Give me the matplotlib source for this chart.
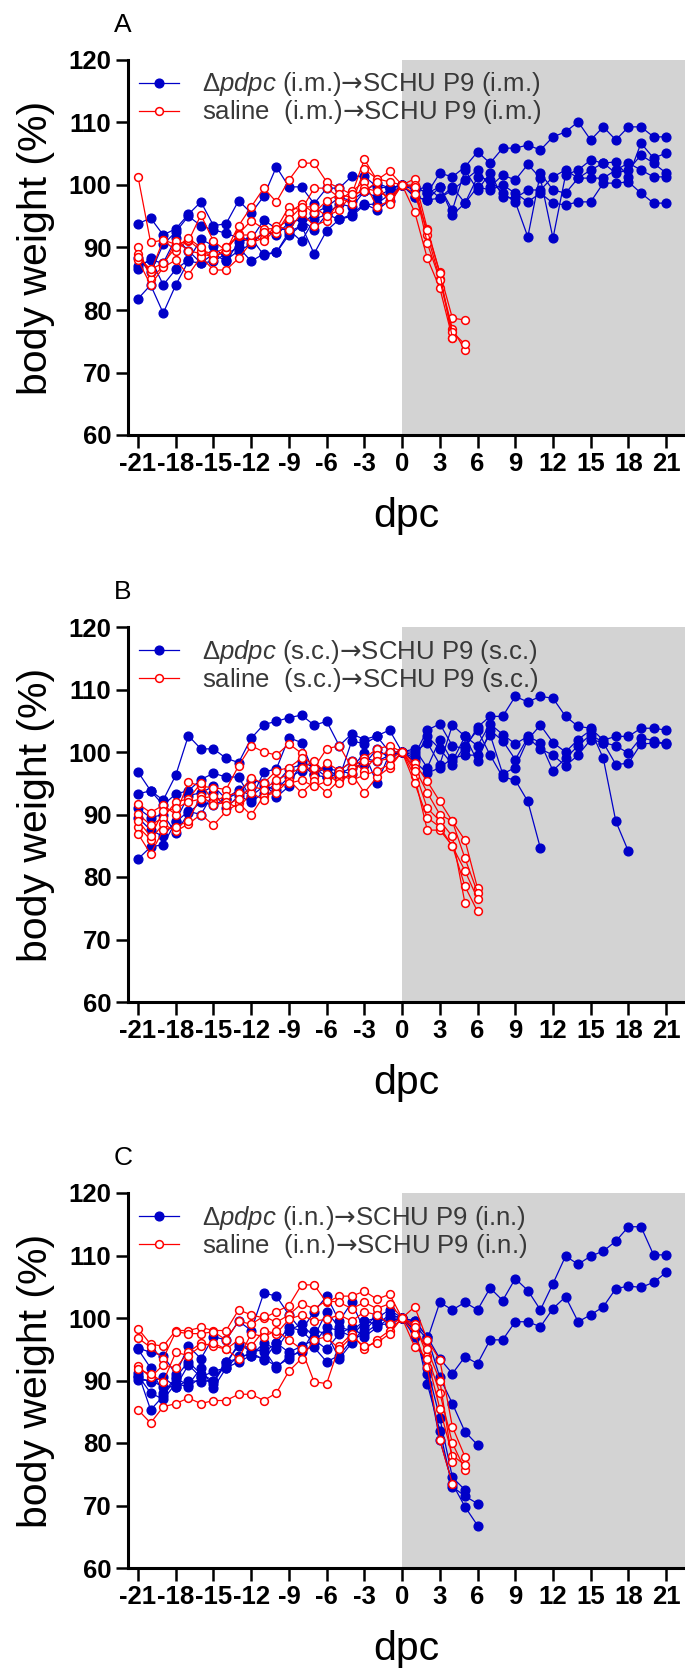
import matplotlib

matplotlib.use("Agg")
import matplotlib.pyplot as plt

plt.rcParams["font.family"] = ["Liberation Sans", "DejaVu Sans"]
plt.rcParams["axes.unicode_minus"] = False
plt.rcParams["mathtext.fontset"] = "custom"
plt.rcParams["mathtext.rm"] = "Liberation Sans"
plt.rcParams["mathtext.it"] = "Liberation Sans:italic"
plt.rcParams["mathtext.sf"] = "DejaVu Sans"

# days post challenge (dpc); each mouse series starts at -21 and runs daily
DAYS = list(range(-21, 22))
X_TICKS = list(range(-21, 22, 3))
Y_TICKS = [60, 70, 80, 90, 100, 110, 120]

# ---- Panel A: i.m. ------------------------------------------------------- #
A_PDPC = [
    [93.8, 94.7, 92.0, 93.0, 95.3, 97.3, 93.5, 93.8, 97.5, 95.5, 98.2, 102.9, 99.7, 99.7, 97.0, 99.5, 99.5, 101.4, 101.4, 99.7, 99.5,
     100, 99.7, 98.7, 101.9, 101.3, 102.9, 105.3, 103.5, 105.9, 105.9, 106.4, 105.6, 107.7, 108.5, 110.1, 107.2, 109.3, 107.2, 109.3, 109.3, 107.7, 107.7],
    [81.8, 84.0, 79.5, 84.0, 87.8, 87.5, 87.8, 89.0, 90.0, 87.8, 89.0, 89.2, 92.5, 93.5, 89.0, 92.7, 94.5, 95.0, 96.8, 97.0, 98.5,
     100, 98.1, 97.6, 97.9, 99.7, 97.1, 99.7, 99.2, 100.0, 98.7, 97.3, 98.7, 97.1, 96.8, 97.3, 97.3, 100.3, 100.3, 100.5, 98.7, 97.1, 97.1],
    [86.5, 88.3, 84.0, 86.5, 88.0, 91.3, 90.3, 88.0, 89.5, 90.5, 92.5, 92.0, 94.0, 94.5, 92.8, 95.3, 94.5, 95.3, 97.0, 96.0, 97.5,
     100, 98.1, 97.6, 99.7, 95.2, 97.1, 101.3, 100.8, 98.7, 97.3, 91.7, 101.9, 99.2, 98.7, 101.1, 102.4, 103.5, 101.9, 102.4, 104.8, 103.5, 101.9],
    [88.3, 86.0, 90.5, 92.5, 95.0, 93.5, 92.8, 92.3, 91.5, 91.3, 94.4, 93.0, 92.8, 91.0, 94.5, 95.3, 97.0, 96.5, 99.0, 100.3, 99.5,
     100, 99.2, 99.7, 97.9, 99.2, 100.8, 102.4, 99.7, 101.6, 100.8, 103.3, 101.1, 91.5, 101.6, 102.4, 104.0, 103.5, 103.7, 101.3, 106.7, 104.3, 105.1],
    [87.0, 88.0, 87.5, 91.5, 89.5, 87.5, 89.0, 87.8, 90.8, 91.5, 88.8, 89.2, 92.0, 93.5, 95.5, 96.5, 98.0, 97.5, 99.0, 98.0, 99.3,
     100, 99.7, 98.7, 99.7, 96.0, 102.4, 99.2, 101.9, 98.1, 97.9, 99.2, 99.2, 101.3, 102.4, 101.1, 101.1, 101.1, 102.4, 103.5, 102.4, 101.3, 101.3],
]
A_SALINE = [
    [101.3, 90.8, 91.2, 90.5, 91.0, 95.2, 91.0, 89.5, 93.5, 96.5, 99.5, 97.3, 100.8, 103.5, 103.5, 100.5, 99.5, 98.5, 104.1, 100.8, 102.2,
     100, 101.0, 93.0, 86.0, 78.7, 78.4],
    [90.0, 85.0, 87.0, 91.0, 89.5, 89.0, 88.5, 89.5, 92.2, 94.3, 93.0, 93.0, 96.5, 96.0, 99.5, 99.5, 98.0, 97.0, 102.5, 101.0, 100.5,
     100, 100.0, 92.0, 85.0, 77.0, 73.6],
    [88.0, 84.0, 86.8, 88.0, 85.6, 88.5, 86.4, 86.4, 88.3, 90.8, 91.5, 93.5, 92.8, 95.5, 93.5, 94.3, 97.5, 99.0, 100.5, 96.5, 97.5,
     100, 95.7, 88.3, 83.5, 75.5],
    [89.0, 86.0, 91.2, 89.5, 91.2, 89.5, 89.0, 90.0, 91.8, 90.8, 92.5, 92.3, 95.5, 97.0, 95.5, 97.5, 98.5, 98.0, 99.5, 99.0, 98.0,
     100, 99.7, 90.7, 84.8, 76.5, 74.5],
    [88.5, 86.5, 87.5, 90.0, 91.5, 90.0, 88.0, 90.0, 92.0, 92.0, 91.0, 93.0, 94.5, 96.5, 96.5, 95.0, 96.0, 98.5, 99.0, 100.5, 97.0,
     100, 98.5, 92.8, 85.9, 75.5],
]

# ---- Panel B: s.c. ------------------------------------------------------- #
B_PDPC = [
    [96.8, 93.8, 92.3, 96.3, 102.6, 100.5, 100.5, 99.0, 98.3, 102.2, 104.4, 104.9, 105.5, 105.9, 104.3, 104.9, 101.0, 102.9, 102.0, 102.6, 103.5,
     100, 99.5, 103.5, 104.5, 101.0, 100.5, 104.0, 105.7, 105.7, 108.9, 108.0, 108.9, 108.6, 105.7, 104.1, 103.8, 101.9, 102.5, 102.5, 103.8, 103.8, 103.5],
    [93.3, 93.8, 91.5, 93.3, 93.8, 95.6, 96.6, 96.0, 96.0, 92.5, 96.8, 97.3, 102.3, 101.5, 96.5, 97.5, 95.8, 101.8, 101.3, 102.5, 100.0,
     100, 100.0, 101.5, 98.0, 104.3, 102.5, 101.0, 104.5, 102.8, 101.3, 102.5, 101.5, 97.0, 99.0, 101.0, 102.8, 101.5, 98.0, 98.2, 101.3, 101.4, 101.4],
    [82.9, 84.8, 85.2, 88.8, 90.5, 90.0, 93.5, 91.0, 93.0, 92.0, 93.5, 95.0, 97.3, 98.0, 96.3, 96.0, 96.5, 97.5, 99.8, 95.0, 99.7,
     100, 99.0, 102.5, 100.5, 98.0, 101.0, 103.5, 99.5, 96.0, 95.5, 92.1, 84.6],
    [89.5, 87.5, 86.5, 89.0, 93.0, 93.5, 94.5, 92.5, 93.5, 95.5, 95.0, 92.8, 94.5, 98.5, 97.5, 96.0, 97.0, 96.5, 99.0, 98.5, 99.5,
     100, 98.5, 96.6, 97.5, 99.0, 99.5, 99.5, 102.8, 96.5, 97.5, 102.0, 104.3, 101.5, 100.0, 102.0, 103.5, 99.0, 88.9, 84.1],
    [91.0, 89.5, 90.0, 87.0, 90.2, 92.0, 91.5, 92.5, 94.0, 93.0, 94.5, 94.0, 96.0, 97.0, 97.5, 97.3, 97.0, 98.5, 98.0, 100.5, 99.0,
     100, 100.5, 97.5, 102.0, 98.5, 102.5, 98.5, 103.5, 101.8, 98.8, 102.3, 100.5, 99.5, 97.8, 99.5, 102.0, 101.5, 101.0, 99.8, 102.3, 101.8, 101.3],
]
B_SALINE = [
    [91.7, 90.3, 91.5, 90.0, 95.2, 94.5, 94.3, 94.0, 97.8, 101.0, 100.0, 99.5, 101.3, 99.8, 97.5, 100.5, 101.0, 97.5, 99.0, 100.5, 101.0,
     100, 98.2, 95.3, 92.1, 88.9, 85.9, 78.2],
    [90.1, 88.3, 89.5, 92.0, 92.5, 95.0, 92.0, 93.0, 93.5, 95.8, 95.0, 97.0, 97.5, 99.0, 96.0, 98.3, 97.0, 98.5, 97.0, 99.5, 100.0,
     100, 97.5, 93.5, 90.0, 88.9, 83.0, 77.5],
    [88.0, 86.0, 88.5, 87.3, 88.5, 90.0, 88.3, 90.5, 91.8, 89.9, 93.0, 93.5, 95.5, 93.5, 95.3, 93.5, 95.5, 96.5, 93.5, 96.0, 97.5,
     100, 96.1, 87.5, 87.5, 85.0, 78.5, 74.5],
    [86.9, 83.7, 87.5, 88.0, 89.0, 93.0, 91.5, 92.0, 91.0, 93.5, 92.3, 94.5, 95.0, 95.5, 94.5, 95.3, 96.5, 95.5, 96.3, 97.0, 98.0,
     100, 97.0, 91.0, 89.0, 86.5, 75.8],
    [89.0, 86.5, 90.5, 91.0, 92.0, 92.5, 93.0, 91.5, 92.5, 94.5, 94.0, 95.5, 96.5, 97.5, 98.5, 96.5, 95.0, 96.8, 98.5, 98.5, 99.0,
     100, 95.0, 89.5, 88.0, 84.9, 81.0, 76.5],
]

# ---- Panel C: i.n. ------------------------------------------------------- #
C_PDPC = [
    [95.2, 94.5, 94.0, 91.0, 95.5, 93.5, 97.0, 96.5, 99.5, 98.0, 104.0, 103.5, 100.5, 98.0, 101.0, 103.5, 99.5, 102.5, 98.0, 100.0, 101.3,
     100, 99.0, 96.5, 102.5, 101.3, 102.5, 101.3, 104.8, 102.8, 106.3, 104.4, 101.3, 105.5, 109.9, 108.6, 109.9, 110.7, 112.3, 114.6, 114.6, 110.1, 110.1],
    [91.2, 85.3, 87.5, 90.3, 89.3, 92.0, 88.8, 92.0, 93.0, 94.0, 93.5, 92.3, 93.5, 95.0, 95.3, 93.0, 94.0, 96.5, 97.5, 99.0, 99.0,
     100, 99.5, 97.0, 93.5, 91.1, 93.8, 92.7, 96.5, 96.5, 99.4, 99.4, 98.6, 101.5, 103.4, 99.4, 100.5, 101.8, 104.7, 105.1, 104.9, 105.7, 107.3],
    [90.1, 90.0, 89.0, 89.0, 90.0, 89.8, 90.0, 93.0, 95.5, 95.3, 94.5, 96.0, 98.5, 98.0, 96.0, 98.5, 98.0, 97.0, 99.5, 99.0, 100.5,
     100, 99.5, 97.0, 90.5, 86.3, 81.8, 79.7],
    [95.0, 92.0, 88.0, 90.5, 93.0, 91.0, 90.0, 92.5, 96.0, 94.5, 95.0, 92.0, 94.0, 94.5, 98.0, 97.5, 93.5, 96.0, 98.5, 100.5, 99.0,
     100, 98.5, 89.5, 82.0, 73.0, 71.5, 70.3],
    [90.5, 89.8, 90.5, 89.0, 92.5, 90.5, 89.5, 93.0, 93.5, 94.5, 93.3, 96.0, 94.5, 95.5, 96.5, 95.0, 97.5, 98.5, 97.0, 98.5, 100.0,
     100, 98.0, 91.0, 80.5, 73.5, 69.8, 66.8],
    [90.8, 88.0, 87.0, 89.5, 89.0, 90.5, 91.5, 92.0, 94.0, 94.0, 96.0, 95.0, 98.0, 99.0, 97.0, 101.0, 98.5, 98.0, 99.5, 100.0, 99.5,
     100, 97.0, 92.0, 84.0, 74.5, 72.5],
]
C_SALINE = [
    [98.3, 95.8, 95.5, 98.0, 98.0, 98.5, 98.0, 98.0, 101.3, 100.5, 100.0, 101.0, 102.0, 105.3, 105.3, 102.5, 103.5, 103.5, 104.3, 103.0, 103.8,
     100, 101.8, 96.5, 93.3, 82.6, 77.8],
    [96.8, 95.3, 93.5, 97.8, 97.5, 97.5, 97.8, 96.5, 99.5, 99.0, 100.3, 99.3, 100.5, 102.3, 101.5, 102.8, 102.5, 101.5, 102.5, 101.5, 102.3,
     100, 99.0, 94.0, 88.0, 80.0, 75.7],
    [92.3, 90.5, 92.5, 92.0, 94.5, 96.0, 95.5, 95.0, 96.5, 95.5, 98.0, 97.5, 99.8, 100.5, 99.5, 99.8, 100.5, 99.5, 101.0, 100.5, 99.0,
     100, 97.5, 92.2, 80.5, 73.5],
    [91.8, 91.0, 89.8, 94.5, 94.0, 95.5, 96.0, 95.0, 93.5, 97.5, 97.0, 98.0, 96.5, 95.0, 89.8, 89.5, 95.5, 97.5, 95.0, 96.5, 98.0,
     100, 95.4, 93.5, 85.5, 78.0, 76.5],
    [85.3, 83.2, 85.8, 86.3, 87.2, 86.3, 86.8, 86.8, 87.8, 87.8, 86.8, 88.0, 91.5, 93.5, 96.5, 97.0, 95.0, 97.0, 95.5, 96.0, 97.5,
     100, 98.5, 95.0, 90.0, 77.0],
]

PANELS = [
    ("A", "i.m.", A_PDPC, A_SALINE),
    ("B", "s.c.", B_PDPC, B_SALINE),
    ("C", "i.n.", C_PDPC, C_SALINE),
]

BLUE = "#0000c8"
RED = "#ff0000"
GREY = "#d3d3d3"
ARROW = "$\\mathsf{\u2192}$"

W, H = 685, 1671
fig = plt.figure(figsize=(W / 100, H / 100), dpi=100)

# axes top edges (pixels from top) for each panel; each axes is 375 px tall
AX_TOPS = [60, 627, 1193]
AX_LEFT, AX_H = 128, 375

for (letter, route, pdpc, saline), top in zip(PANELS, AX_TOPS):
    ax = fig.add_axes([AX_LEFT / W, 1 - (top + AX_H) / H, (W - AX_LEFT) / W, AX_H / H])
    ax.set_xlim(-21.8, 22.5)
    ax.set_ylim(60, 120)
    ax.axvspan(0, 22.5, color=GREY, lw=0, zorder=0)

    pdpc_label = r"$\mathit{\Delta pdpc}$" + f" ({route})" + ARROW + f"SCHU P9 ({route})"
    saline_label = f"saline  ({route})" + ARROW + f"SCHU P9 ({route})"

    for i, mouse in enumerate(pdpc):
        ax.plot(DAYS[:len(mouse)], mouse, color=BLUE, lw=0.9, marker="o", ms=6.3,
                mfc=BLUE, mec=BLUE, zorder=2, label=pdpc_label if i == 0 else None)
    for i, mouse in enumerate(saline):
        ax.plot(DAYS[:len(mouse)], mouse, color=RED, lw=0.9, marker="o", ms=5.6,
                mfc="white", mec=RED, mew=1.1, zorder=3, label=saline_label if i == 0 else None)

    for side in ("top", "right"):
        ax.spines[side].set_visible(False)
    for side in ("left", "bottom"):
        ax.spines[side].set_linewidth(2.2)
    ax.set_xticks(X_TICKS)
    ax.set_yticks(Y_TICKS)
    ax.tick_params(direction="out", length=9, width=1.8, labelsize=18.5, pad=3)
    for lab in ax.get_xticklabels() + ax.get_yticklabels():
        lab.set_fontweight("bold")

    ax.set_ylabel("body weight (%)", fontsize=29.5)
    ax.yaxis.set_label_coords(-0.131, 0.5)
    ax.set_xlabel("dpc", fontsize=29.5)
    ax.xaxis.set_label_coords(0.5, -0.165)

    ax.legend(loc="upper left", bbox_to_anchor=(0.02, 0.972), frameon=False,
              fontsize=18.5, handlelength=1.56, handletextpad=0.9,
              labelspacing=0.0, borderpad=0, borderaxespad=0,
              labelcolor="#383838")

    fig.text(123 / W, 1 - (top - 35) / H, letter, fontsize=19, ha="center", va="center")

fig.savefig("out.png", dpi=100)
